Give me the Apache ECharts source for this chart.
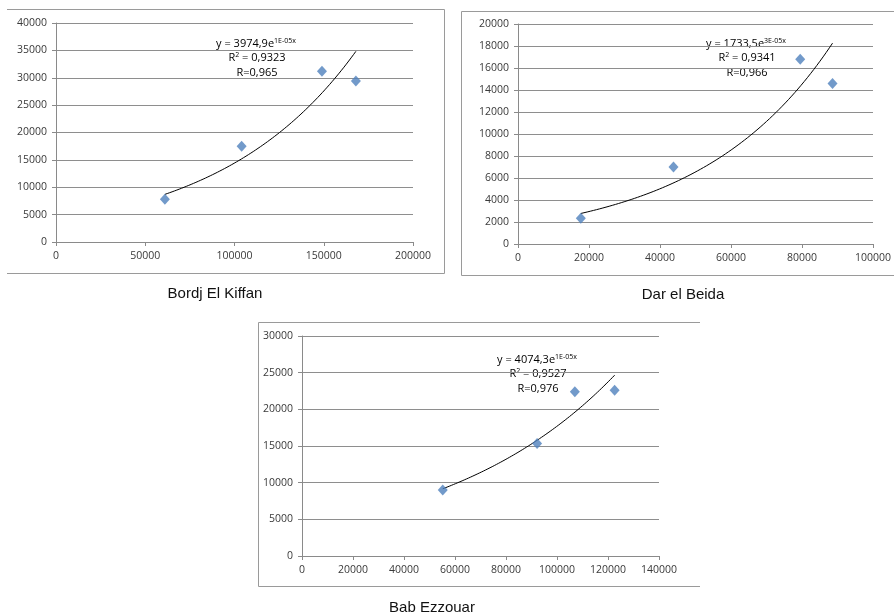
<!DOCTYPE html>
<html>
<head>
<meta charset="utf-8">
<script src="https://cdn.jsdelivr.net/npm/echarts@6/dist/echarts.min.js"></script>
<style>html,body{margin:0;padding:0;background:#fff}#c{width:894px;height:616px}</style>
</head>
<body>
<div id="c"></div>
<script>
// ---- data ----
const titles = ['Bordj El Kiffan', 'Dar el Beida', 'Bab Ezzouar'];
const xBordj = [61000, 104000, 149000, 168000];
const yBordj = [7800, 17500, 31200, 29400];
const xDar = [17700, 43800, 79500, 88600];
const yDar = [2350, 7000, 16800, 14600];
const xBab = [55200, 92200, 107000, 122600];
const yBab = [9000, 15350, 22400, 22600];
const eqCoef = ['3974,9', '1733,5', '4074,3'];
const eqExp = ['1E-05x', '3E-05x', '1E-05x'];
const eqR2 = ['0,9323', '0,9341', '0,9527'];
const eqR = ['0,965', '0,966', '0,976'];
const xMax = [200000, 100000, 140000];
const xStep = [50000, 20000, 20000];
const yMax = [40000, 20000, 30000];
const yStep = [5000, 2000, 5000];

const sets = [[xBordj, yBordj], [xDar, yDar], [xBab, yBab]];

// exponential least-squares trendline (as Excel does: fit ln y = ln a + b x)
function expFit(xs, ys) {
  const n = xs.length;
  const ly = ys.map(Math.log);
  const mx = xs.reduce((s, v) => s + v, 0) / n;
  const my = ly.reduce((s, v) => s + v, 0) / n;
  let sxy = 0, sxx = 0;
  for (let i = 0; i < n; i++) { sxy += (xs[i] - mx) * (ly[i] - my); sxx += (xs[i] - mx) ** 2; }
  const b = sxy / sxx;
  return { a: Math.exp(my - b * mx), b };
}
function trend(xs, ys) {
  const f = expFit(xs, ys);
  const lo = Math.min(...xs), hi = Math.max(...xs);
  const pts = [];
  const N = 80;
  for (let i = 0; i <= N; i++) { const x = lo + (hi - lo) * i / N; pts.push([x, f.a * Math.exp(f.b * x)]); }
  return pts;
}

const grids = [
  { left: 56, top: 23, width: 357, height: 219 },
  { left: 518, top: 24, width: 356, height: 220 },
  { left: 302, top: 336, width: 357, height: 220 }
];
const FONT = '"Open Sans", "Liberation Sans", sans-serif';
const axisCol = '#8a8a8a';
const labCol = '#3a3a3a';
const plain = v => String(v);

const xAxes = [], yAxes = [], series = [];
for (let i = 0; i < 3; i++) {
  xAxes.push({
    type: 'value', gridIndex: i, min: 0, max: xMax[i], interval: xStep[i],
    axisLine: { show: true, onZero: false, lineStyle: { color: axisCol, width: 1 } },
    axisTick: { show: true, length: 4, lineStyle: { color: axisCol } },
    axisLabel: { color: labCol, fontFamily: FONT, fontSize: 10.5, margin: 9, formatter: plain },
    splitLine: { show: false }
  });
  yAxes.push({
    type: 'value', gridIndex: i, min: 0, max: yMax[i], interval: yStep[i],
    axisLine: { show: true, lineStyle: { color: axisCol, width: 1 } },
    axisTick: { show: true, length: 4, lineStyle: { color: axisCol } },
    axisLabel: { color: labCol, fontFamily: FONT, fontSize: 10.5, margin: 9, formatter: plain },
    splitLine: { show: true, lineStyle: { color: '#8e8e8e', width: 1 } }
  });
  const [xs, ys] = sets[i];
  series.push({
    type: 'line', xAxisIndex: i, yAxisIndex: i, data: trend(xs, ys), showSymbol: false,
    smooth: false, lineStyle: { color: '#000', width: 1 }, silent: true, z: 2
  });
  series.push({
    type: 'scatter', xAxisIndex: i, yAxisIndex: i, data: xs.map((x, k) => [x, ys[k]]),
    symbol: 'diamond', symbolSize: [10, 11], itemStyle: { color: '#4f81bd' }, z: 3
  });
}

const titleSpots = [[215, 294], [683, 295], [432, 608]];
const eqSpots = [[256, 42], [746, 42], [537, 358]];

const graphic = [];
// panel borders
const bc = '#9a9a9a';
function ln(x1, y1, x2, y2) { graphic.push({ type: 'line', shape: { x1, y1, x2, y2 }, style: { stroke: bc, lineWidth: 1 }, silent: true }); }
ln(7, 9.5, 444.5, 9.5); ln(444.5, 9.5, 444.5, 273.5); ln(7, 273.5, 444.5, 273.5);
ln(461.5, 11.5, 894, 11.5); ln(461.5, 11.5, 461.5, 275.5); ln(461.5, 275.5, 894, 275.5);
ln(258.5, 322.5, 700, 322.5); ln(258.5, 322.5, 258.5, 586.5); ln(258.5, 586.5, 700, 586.5);

const rich = {
  b: { fontSize: 11, fontFamily: FONT, color: '#333', lineHeight: 14.5, verticalAlign: 'bottom' },
  s: { fontSize: 7, fontFamily: FONT, color: '#333', lineHeight: 14.5, padding: [0, 0, 5, 0], verticalAlign: 'bottom' }
};
for (let i = 0; i < 3; i++) {
  graphic.push({
    type: 'text', x: titleSpots[i][0], y: titleSpots[i][1], silent: true,
    style: { text: titles[i], fill: '#111', font: '15px "Liberation Sans", Arial, sans-serif', align: 'center', verticalAlign: 'middle' }
  });
  const [cx, cy] = eqSpots[i];
  graphic.push({
    type: 'text', x: cx, y: cy, silent: true,
    style: { text: '{b|y = ' + eqCoef[i] + 'e}{s|' + eqExp[i] + '}', rich, align: 'center', verticalAlign: 'middle' }
  });
  graphic.push({
    type: 'text', x: cx + 1, y: cy + 14.5, silent: true,
    style: { text: '{b|R}{s|2}{b| = ' + eqR2[i] + '}', rich, align: 'center', verticalAlign: 'middle' }
  });
  graphic.push({
    type: 'text', x: cx + 1, y: cy + 29, silent: true,
    style: { text: '{b|R=' + eqR[i] + '}', rich, align: 'center', verticalAlign: 'middle' }
  });
}

const chart = echarts.init(document.getElementById('c'), null, { renderer: 'canvas' });
chart.setOption({
  animation: false,
  backgroundColor: '#fff',
  grid: grids,
  xAxis: xAxes,
  yAxis: yAxes,
  series,
  graphic
});
</script>
</body>
</html>
